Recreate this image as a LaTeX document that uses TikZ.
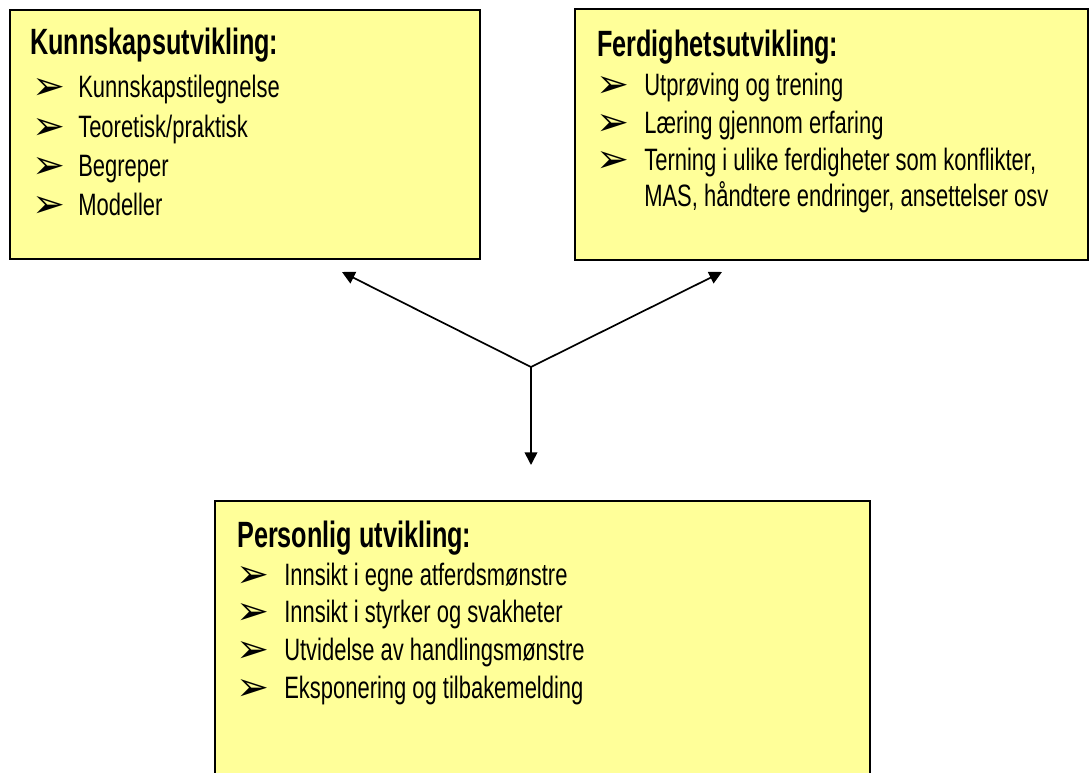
\documentclass[tikz,border=0pt]{standalone}
\usepackage{fontspec}
\setmainfont{Liberation Sans}
\newfontfamily\agency[FakeStretch=0.71]{Liberation Sans}
\newfontfamily\agencybold[FakeStretch=0.69]{Liberation Sans Bold}
\newfontfamily\dingfont{DejaVu Sans}
\usetikzlibrary{arrows.meta}
\definecolor{notepad}{RGB}{255,255,153}
\tikzset{
  panel/.style={draw=black,line width=1.4pt,fill=notepad,anchor=north west,inner sep=0pt},
  heading/.style={anchor=base west,inner sep=0pt,font=\agencybold\fontsize{26}{30}\selectfont},
  point/.style={anchor=base west,inner sep=0pt,font=\agency\fontsize{22}{26}\selectfont},
  pointer/.style={anchor=base west,inner sep=0pt,font=\dingfont\fontsize{28}{30}\selectfont},
  link/.style={line width=1.2pt,-{Triangle[length=9pt,width=9pt]}}
}
\begin{document}
\begin{tikzpicture}[x=0.025cm,y=-0.025cm]
    \clip (0,0) rectangle (1092,773) ;
    % the three boxes
    \node[panel,minimum width=11.75cm,minimum height=6.225cm] (kunn) at (9,9) {} ;
    \node[panel,minimum width=12.825cm,minimum height=6.275cm] (ferd) at (574,8) {} ;
    \node[panel,minimum width=16.375cm,minimum height=7.5cm] (pers) at (214,500) {} ;
    % Kunnskapsutvikling
    \node[heading] (kunnhead) at (30,55) {Kunnskapsutvikling:} ;
    \foreach \t [count=\i] in {Kunnskapstilegnelse,Teoretisk/praktisk,Begreper,Modeller}{
    \node[pointer] (kb\i) at (32,100+39.3*\i-39.3) {➢} ;
    \node[point] (kt\i) at (78,98+39.3*\i-39.3) {\t} ;}
    % Ferdighetsutvikling
    \node[heading] (ferdhead) at (597,57) {Ferdighetsutvikling:} ;
    \foreach \t [count=\i] in {Utprøving og trening,Læring gjennom erfaring,{Terning i ulike ferdigheter som konflikter,}}{
    \node[pointer] (fb\i) at (596,98+37.3*\i-37.3) {➢} ;
    \node[point] (ft\i) at (644,96+37.3*\i-37.3) {\t} ;}
    \node[point] (ft4) at (644,207) {MAS, håndtere endringer, ansettelser osv} ;
    % Personlig utvikling
    \node[heading] (pershead) at (237,547) {Personlig utvikling:} ;
    \foreach \t [count=\i] in {Innsikt i egne atferdsmønstre,Innsikt i styrker og svakheter,Utvidelse av handlingsmønstre,Eksponering og tilbakemelding}{
    \node[pointer] (pb\i) at (236,587+37.7*\i-37.7) {➢} ;
    \node[point] (pt\i) at (284,585+37.7*\i-37.7) {\t} ;}
    % arrows from the hub
    \coordinate (hub) at (531,367) ;
    \coordinate (tipk) at (342,272) ;
    \coordinate (tipf) at (722,272) ;
    \coordinate (tipp) at (531,465) ;
    \draw[link] (hub) -- (tipk) ;
    \draw[link] (hub) -- (tipf) ;
    \draw[link] (hub) -- (tipp) ;
\end{tikzpicture}
\end{document}
